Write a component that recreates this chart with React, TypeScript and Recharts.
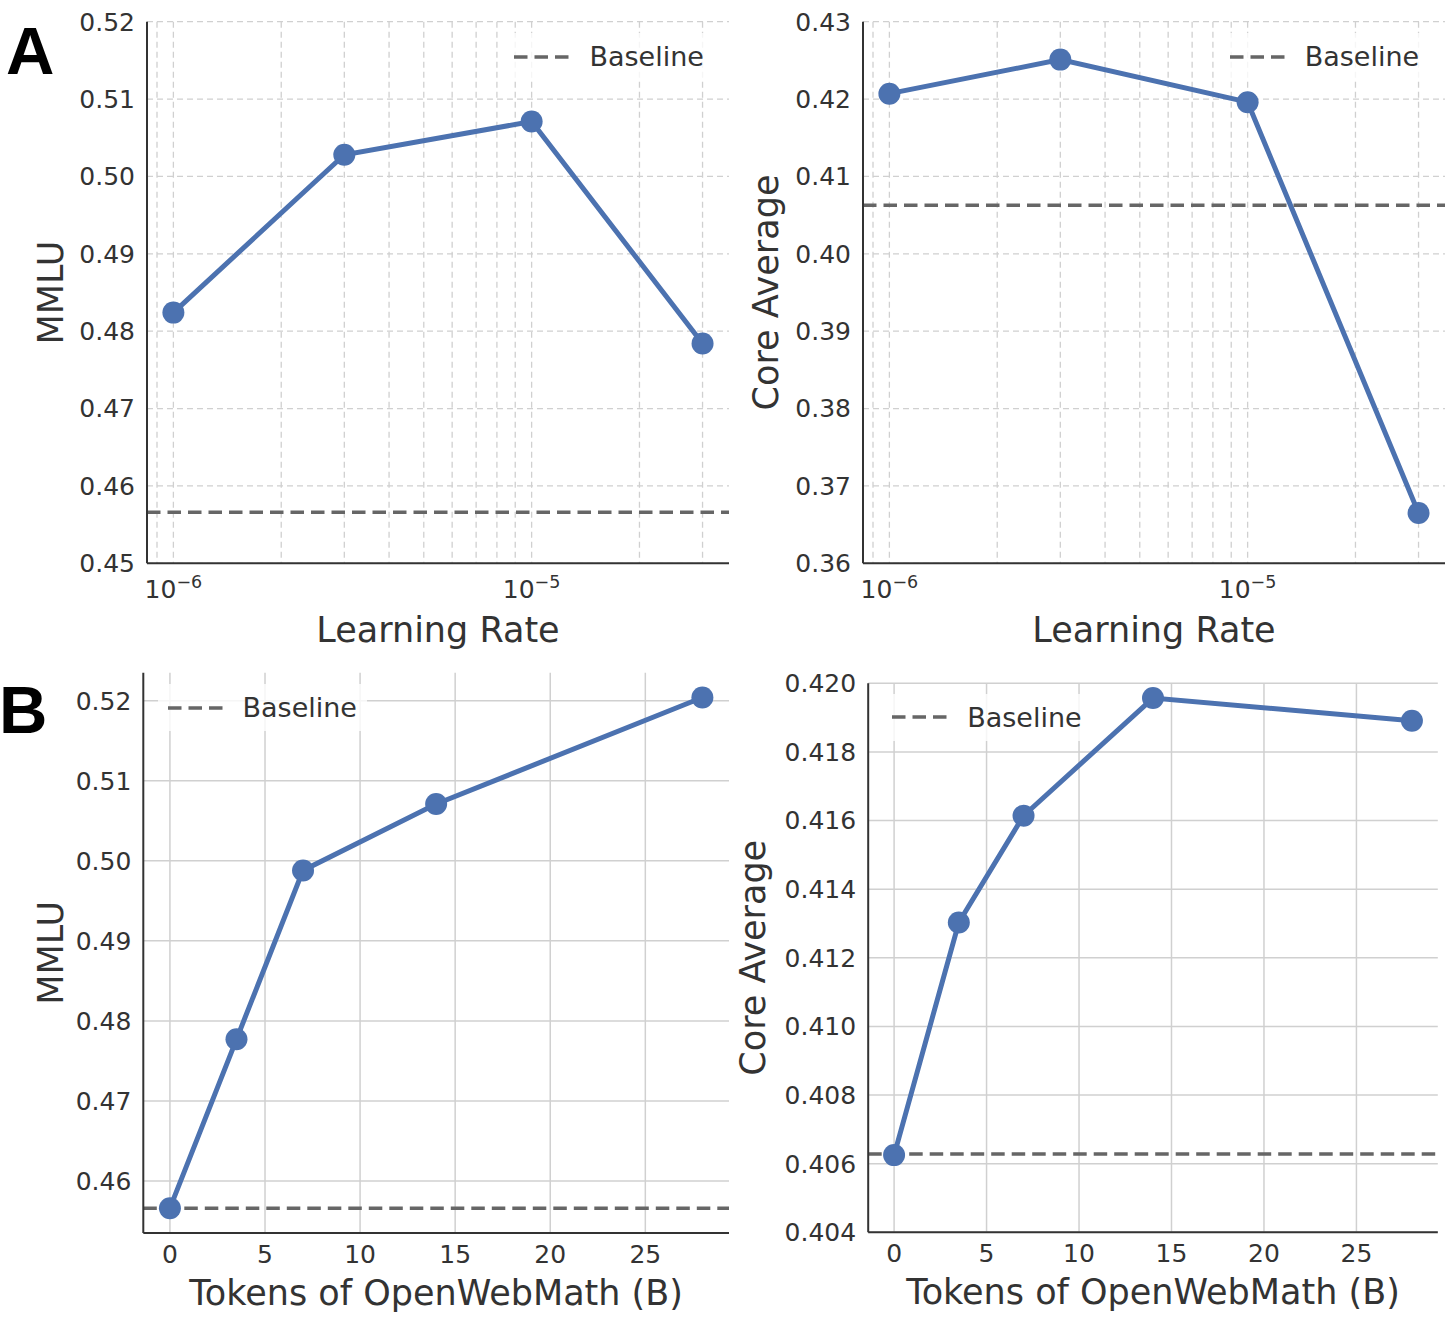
import React from "react";
import { LineChart, Line, XAxis, YAxis, CartesianGrid, ReferenceLine } from "recharts";

// Panel A: learning-rate sweep (log x axis)
const learningRates = [1e-6, 3e-6, 1e-5, 3e-5];
const lrMmlu = [0.4824, 0.5028, 0.5071, 0.4784];
const lrCore = [0.4207, 0.4251, 0.4196, 0.3665];

// Panel B: amount of OpenWebMath tokens (billions)
const tokens = [0, 3.5, 7, 14, 28];
const tokensMmlu = [0.4566, 0.4777, 0.4988, 0.5071, 0.5204];
const tokensCore = [0.40625, 0.41303, 0.41614, 0.41957, 0.41891];

const mmluBaseline = 0.4566;
const coreBaseline = 0.40628;

// ticks (log axis keeps minor ticks for the grid, labels only on decades)
const lrTicks = [9e-7, 1e-6, 2e-6, 3e-6, 4e-6, 5e-6, 6e-6, 7e-6, 8e-6, 9e-6, 1e-5, 2e-5, 3e-5];
const tokenTicks = [0, 5, 10, 15, 20, 25];
const mmluTicksA = [0.45, 0.46, 0.47, 0.48, 0.49, 0.5, 0.51, 0.52];
const coreTicksA = [0.36, 0.37, 0.38, 0.39, 0.4, 0.41, 0.42, 0.43];
const mmluTicksB = [0.46, 0.47, 0.48, 0.49, 0.5, 0.51, 0.52];
const coreTicksB = [0.404, 0.406, 0.408, 0.41, 0.412, 0.414, 0.416, 0.418, 0.42];

const lrData = learningRates.map((lr, i) => ({ x: lr, mmlu: lrMmlu[i], core: lrCore[i] }));
const tokenData = tokens.map((t, i) => ({ x: t, mmlu: tokensMmlu[i], core: tokensCore[i] }));

const BLUE = "#4C72B0";
const TEXT = "#333333";
const DASH = "#666666";
const FONT = "'DejaVu Sans', sans-serif";

const LogTick = (props: any) => {
  const { x, y, payload } = props;
  const exp = Math.log10(payload.value);
  if (Math.abs(exp - Math.round(exp)) > 1e-6) return <g />;
  return (
    <text x={x} y={y + 35} textAnchor="middle" fill={TEXT} fontSize={25} fontFamily={FONT}>
      <tspan>10</tspan>
      <tspan dy={-10} fontSize={17.5}>{"\u2212" + Math.abs(Math.round(exp))}</tspan>
    </text>
  );
};

type Plot = { x: number; y: number; right: number; bottom: number };

interface PanelProps {
  left: number;
  top: number;
  width: number;
  height: number;
  plot: Plot;
  data: { x: number; mmlu: number; core: number }[];
  dataKey: "mmlu" | "core";
  log: boolean;
  xDomain: [number, number];
  xTicks: number[];
  yDomain: [number, number];
  yTicks: number[];
  yDigits: number;
  xLabel: string;
  xLabelDy: number;
  yLabel: string;
  yLabelX: number;
  baseline: number;
}

const Panel: React.FC<PanelProps> = (p) => {
  const cx = (p.plot.x + p.plot.right) / 2;
  const cy = (p.plot.y + p.plot.bottom) / 2;
  const labelStyle = { fontSize: 35, fill: TEXT, fontFamily: FONT };
  return (
    <div style={{ position: "absolute", left: p.left, top: p.top }}>
      <LineChart
        width={p.width}
        height={p.height}
        data={p.data}
        margin={{ top: p.plot.y, right: p.width - p.plot.right, bottom: 0, left: 0 }}
      >
        {p.log ? (
          <CartesianGrid stroke="#d0d0d0" strokeDasharray="6 4" strokeWidth={1.3} syncWithTicks />
        ) : (
          <CartesianGrid stroke="#d0d0d0" strokeWidth={1.5} syncWithTicks />
        )}
        <XAxis
          dataKey="x"
          type="number"
          scale={p.log ? "log" : "linear"}
          domain={p.xDomain}
          allowDataOverflow
          ticks={p.xTicks}
          interval={0}
          height={p.height - p.plot.bottom}
          tickLine={false}
          tickSize={0}
          tickMargin={p.log ? 0 : 12}
          axisLine={{ stroke: TEXT, strokeWidth: 2 }}
          tick={p.log ? <LogTick /> : { fill: TEXT, fontSize: 25, fontFamily: FONT }}
          label={() => (
            <text x={cx} y={p.plot.bottom + p.xLabelDy} textAnchor="middle" {...labelStyle}>
              {p.xLabel}
            </text>
          )}
        />
        <YAxis
          type="number"
          domain={p.yDomain}
          allowDataOverflow
          ticks={p.yTicks}
          interval={0}
          width={p.plot.x}
          tickLine={false}
          tickSize={0}
          tickMargin={12}
          axisLine={{ stroke: TEXT, strokeWidth: 2 }}
          tick={{ fill: TEXT, fontSize: 25, fontFamily: FONT }}
          tickFormatter={(v: number) => v.toFixed(p.yDigits)}
          label={() => (
            <text
              x={p.yLabelX}
              y={cy}
              transform={`rotate(-90 ${p.yLabelX} ${cy})`}
              textAnchor="middle"
              {...labelStyle}
            >
              {p.yLabel}
            </text>
          )}
        />
        <Line
          type="linear"
          dataKey={p.dataKey}
          stroke={BLUE}
          strokeWidth={5}
          dot={{ r: 11, fill: BLUE, stroke: BLUE, strokeWidth: 0 }}
          activeDot={false}
          isAnimationActive={false}
        />
        <ReferenceLine y={p.baseline} stroke={DASH} strokeWidth={3.5} strokeDasharray="13.5 7" />
      </LineChart>
    </div>
  );
};

const BaselineLegend: React.FC<{ dashX: number; centerY: number }> = ({ dashX, centerY }) => (
  <div
    style={{
      position: "absolute",
      left: dashX - 10,
      top: centerY - 23.5,
      height: 47,
      padding: "0 10px",
      display: "flex",
      alignItems: "center",
      background: "rgba(255,255,255,0.8)",
      borderRadius: 4,
    }}
  >
    <svg width={55} height={10} style={{ display: "block" }}>
      <line x1={0} x2={55} y1={5} y2={5} stroke={DASH} strokeWidth={3.5} strokeDasharray="13.5 7" />
    </svg>
    <span style={{ marginLeft: 20, fontSize: 27, lineHeight: 1, color: TEXT, fontFamily: FONT }}>Baseline</span>
  </div>
);

const lrDomain: [number, number] = [8.44e-7, 3.556e-5];
const tokenDomain: [number, number] = [-1.4, 29.4];

export default function App() {
  return (
    <div
      style={{
        position: "absolute",
        left: 0,
        top: 0,
        width: 1456,
        height: 1323,
        background: "#fff",
        fontFamily: FONT,
        overflow: "hidden",
      }}
    >
      <Panel
        left={0}
        top={0}
        width={740}
        height={650}
        plot={{ x: 147, y: 21.7, right: 729, bottom: 563.3 }}
        data={lrData}
        dataKey="mmlu"
        log
        xDomain={lrDomain}
        xTicks={lrTicks}
        yDomain={[0.45, 0.52]}
        yTicks={mmluTicksA}
        yDigits={2}
        xLabel="Learning Rate"
        xLabelDy={79}
        yLabel="MMLU"
        yLabelX={63}
        baseline={mmluBaseline}
      />
      <Panel
        left={720}
        top={0}
        width={736}
        height={650}
        plot={{ x: 143, y: 21.7, right: 725, bottom: 563.3 }}
        data={lrData}
        dataKey="core"
        log
        xDomain={lrDomain}
        xTicks={lrTicks}
        yDomain={[0.36, 0.43]}
        yTicks={coreTicksA}
        yDigits={2}
        xLabel="Learning Rate"
        xLabelDy={79}
        yLabel="Core Average"
        yLabelX={58}
        baseline={coreBaseline}
      />
      <Panel
        left={0}
        top={650}
        width={740}
        height={673}
        plot={{ x: 143.3, y: 22.7, right: 729, bottom: 583 }}
        data={tokenData}
        dataKey="mmlu"
        log={false}
        xDomain={tokenDomain}
        xTicks={tokenTicks}
        yDomain={[0.4535, 0.5235]}
        yTicks={mmluTicksB}
        yDigits={2}
        xLabel="Tokens of OpenWebMath (B)"
        xLabelDy={72}
        yLabel="MMLU"
        yLabelX={63}
        baseline={mmluBaseline}
      />
      <Panel
        left={720}
        top={650}
        width={736}
        height={673}
        plot={{ x: 148.2, y: 33.3, right: 717.8, bottom: 582.3 }}
        data={tokenData}
        dataKey="core"
        log={false}
        xDomain={tokenDomain}
        xTicks={tokenTicks}
        yDomain={[0.404, 0.42]}
        yTicks={coreTicksB}
        yDigits={3}
        xLabel="Tokens of OpenWebMath (B)"
        xLabelDy={72}
        yLabel="Core Average"
        yLabelX={45}
        baseline={coreBaseline}
      />

      <BaselineLegend dashX={514.4} centerY={56.5} />
      <BaselineLegend dashX={1229.7} centerY={56.8} />
      <BaselineLegend dashX={167.5} centerY={707.7} />
      <BaselineLegend dashX={892.2} centerY={717} />

      <svg
        width={1456}
        height={1323}
        style={{ position: "absolute", left: 0, top: 0, pointerEvents: "none" }}
      >
        <text x={6} y={74} fontSize={67} fontWeight="bold" fontFamily="'Liberation Sans', Arial, sans-serif" fill="#000">
          A
        </text>
        <text x={-1} y={733} fontSize={67} fontWeight="bold" fontFamily="'Liberation Sans', Arial, sans-serif" fill="#000">
          B
        </text>
      </svg>
    </div>
  );
}
